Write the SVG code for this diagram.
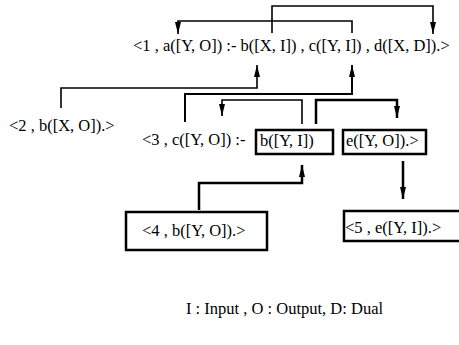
<svg xmlns="http://www.w3.org/2000/svg" width="459" height="345" viewBox="0 0 459 345">
<style>
text{font-family:"Liberation Serif","Times New Roman",serif;font-size:16.5px;fill:#000}
.c{fill:none;stroke:#000;stroke-width:1.6}
.t{fill:none;stroke:#000;stroke-width:2.5}
.box{fill:#fff;stroke:#000;stroke-width:2.5}
</style>
<defs>
<marker id="ah" viewBox="0 0 12 6" refX="12" refY="3" markerWidth="12" markerHeight="6" markerUnits="userSpaceOnUse" orient="auto">
<path d="M0,0 L12,3 L0,6 z" fill="#000"/>
</marker>
</defs>
<rect width="459" height="345" fill="#fff"/>
<g id="connectors">
<path class="c" d="M272,33 V6 H433 V34" marker-end="url(#ah)"/>
<path class="c" d="M352,33 V21 H178 V34" marker-end="url(#ah)"/>
<path class="c" d="M61,108 V88 H257 V65" marker-end="url(#ah)"/>
<path class="c" d="M185,122 V94 H352 V65" marker-end="url(#ah)" style="stroke-width:2"/>
<path class="c" d="M302,124 V100 H222 V116" marker-end="url(#ah)"/>
<path class="t" d="M316,124 V100 H397 V118" marker-end="url(#ah)"/>
<path class="t" d="M199,210 V183 H302 V165" marker-end="url(#ah)"/>
<path class="t" d="M403,161 V199" marker-end="url(#ah)"/>
</g>
<g id="clause1">
<text x="133" y="51">&lt;1 , a([Y, O]) :- b([X, I]) , c([Y, I]) , d([X, D]).&gt;</text>
</g>
<g id="clause2">
<text x="9" y="131">&lt;2 , b([X, O]).&gt;</text>
</g>
<g id="clause3">
<text x="142" y="145">&lt;3 , c([Y, O]) :-</text>
</g>
<g id="goal-b">
<rect class="box" x="256" y="130" width="77" height="24"/>
<text x="260" y="146">b([Y, I])</text>
</g>
<g id="goal-e">
<rect class="box" x="343" y="130" width="83" height="24"/>
<text x="346" y="146">e([Y, O]).&gt;</text>
</g>
<g id="clause4">
<rect class="box" x="126" y="212" width="141" height="38"/>
<text x="142" y="236">&lt;4 , b([Y, O]).&gt;</text>
</g>
<g id="clause5">
<rect class="box" x="344" y="211" width="130" height="30"/>
<text x="345" y="233">&lt;5 , e([Y, I]).&gt;</text>
</g>
<g id="legend">
<text x="186" y="314">I : Input , O : Output, D: Dual</text>
</g>
</svg>
